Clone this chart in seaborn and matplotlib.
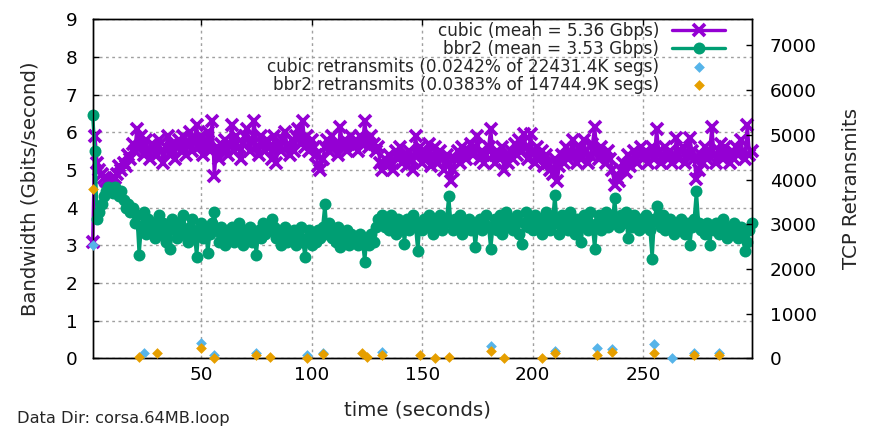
import numpy as np
import matplotlib
matplotlib.use("Agg")
import matplotlib.pyplot as plt
from matplotlib.ticker import MultipleLocator
import seaborn as sns

# ---- per-second throughput samples (Gbits/second) ----
cubic_gbps = [
    3.1, 5.9, 5.2, 5.0, 4.9, 4.8, 4.7, 4.7, 4.65, 4.7,
    4.8, 4.9, 5.1, 5.0, 5.2, 5.1, 5.4, 5.3, 5.7, 5.5,
    6.1, 5.6, 5.9, 5.4, 5.8, 5.5, 5.3, 5.7, 5.6, 5.4,
    5.8, 5.5, 5.2, 5.6, 5.9, 5.4, 5.7, 5.3, 5.6, 5.8,
    5.5, 5.9, 5.4, 5.7, 6.0, 5.5, 5.8, 6.2, 5.6, 5.9,
    5.4, 5.7, 6.0, 5.5, 6.3, 4.85, 5.6, 5.3, 5.7, 5.5,
    5.8, 5.4, 5.7, 6.2, 5.5, 5.9, 5.6, 5.3, 5.7, 5.9,
    6.1, 5.5, 5.8, 6.3, 5.6, 5.4, 5.9, 5.7, 5.5, 5.8,
    5.6, 5.3, 5.9, 5.2, 5.7, 5.5, 5.8, 6.0, 5.6, 5.4,
    5.8, 5.5, 5.9, 6.1, 5.7, 6.3, 5.6, 5.9, 5.5, 5.8,
    5.6, 5.4, 5.1, 5.0, 5.3, 5.6, 5.8, 5.5, 5.9, 5.6,
    5.7, 5.4, 6.15, 5.6, 5.8, 5.5, 5.7, 5.9, 5.6, 5.8,
    5.5, 5.9, 5.7, 6.3, 5.8, 5.6, 5.9, 5.7, 5.5, 5.6,
    5.2, 5.0, 5.3, 5.1, 5.4, 5.2, 5.0, 5.5, 5.3, 5.6,
    5.2, 5.4, 5.1, 5.5, 5.3, 5.0, 5.9, 5.4, 5.6, 5.2,
    5.5, 5.3, 5.7, 5.1, 5.4, 5.6, 5.2, 5.5, 5.3, 5.0,
    5.4, 5.2, 4.7, 5.0, 5.3, 5.5, 5.2, 5.6, 5.4, 5.3,
    5.5, 5.7, 5.4, 5.6, 5.9, 5.3, 5.5, 5.2, 5.4, 5.6,
    6.1, 5.4, 5.2, 5.5, 5.3, 5.6, 5.0, 5.4, 5.2, 5.5,
    5.3, 5.7, 5.4, 5.8, 5.5, 5.95, 5.6, 5.3, 5.95, 5.5,
    5.2, 5.6, 5.3, 5.5, 5.1, 5.4, 5.2, 5.0, 4.9, 5.3,
    4.7, 5.1, 5.4, 5.2, 5.6, 5.3, 5.5, 5.8, 5.4, 5.2,
    5.6, 5.3, 5.8, 5.5, 5.2, 5.4, 5.7, 6.15, 5.5, 5.3,
    5.6, 5.4, 5.2, 5.5, 5.3, 5.0, 4.6, 4.8, 4.7, 5.0,
    5.2, 4.95, 5.4, 5.1, 5.3, 5.5, 5.2, 5.4, 5.6, 5.3,
    5.5, 5.2, 5.4, 5.6, 5.3, 6.1, 5.5, 5.2, 5.4, 5.6,
    5.3, 5.5, 5.2, 5.4, 5.85, 5.3, 5.5, 5.6, 5.2, 5.4,
    5.85, 5.5, 5.3, 4.75, 5.0, 5.4, 5.2, 5.6, 5.3, 5.5,
    6.15, 5.4, 5.2, 5.5, 5.7, 5.3, 5.6, 5.4, 5.2, 5.5,
    5.3, 5.6, 5.4, 5.8, 5.5, 5.3, 6.2, 5.4, 5.5,
]

bbr2_gbps = [
    6.45, 5.5, 3.7, 3.9, 4.1, 4.3, 4.45, 4.55, 4.5, 4.4,
    4.55, 4.4, 4.3, 4.45, 4.2, 4.0, 4.1, 3.9, 4.0, 3.6,
    3.8, 2.75, 3.5, 3.9, 3.3, 3.7, 3.4, 3.6, 3.2, 3.5,
    3.8, 3.3, 3.6, 3.1, 3.5, 2.9, 3.7, 3.4, 3.2, 3.6,
    3.3, 3.8, 3.4, 3.1, 3.5, 3.7, 3.3, 2.7, 3.4, 3.6,
    3.2, 3.5, 2.8, 3.3, 3.6, 3.9, 3.4, 3.1, 3.5, 3.3,
    3.0, 3.4, 3.2, 3.5, 3.1, 3.3, 3.6, 3.2, 3.0, 3.4,
    3.2, 3.5, 3.1, 3.3, 2.75, 3.4, 3.2, 3.6, 3.3, 3.5,
    3.4, 3.7, 3.5, 3.2, 3.4, 3.0, 3.3, 3.5, 3.1, 3.3,
    3.2, 3.4, 3.0, 3.3, 3.5, 3.1, 2.7, 3.2, 3.4, 3.0,
    3.3, 3.1, 3.4, 3.2, 3.5, 4.1, 3.3, 3.6, 3.2, 3.4,
    3.1, 3.5, 2.95, 3.3, 3.2, 3.4, 3.0, 3.3, 3.1, 3.2,
    3.0, 3.3, 3.1, 2.57, 3.2, 3.0, 3.3, 3.1, 3.5, 3.7,
    3.6, 3.8, 3.5, 3.7, 3.4, 3.8, 3.6, 3.3, 3.7, 3.5,
    3.6, 3.05, 3.7, 3.4, 3.6, 3.8, 3.5, 2.85, 3.6, 3.4,
    3.7, 3.5, 3.8, 3.6, 3.3, 3.7, 3.5, 3.8, 3.4, 3.6,
    3.7, 4.3, 3.6, 3.4, 3.7, 3.5, 3.8, 3.3, 3.6, 3.5,
    3.7, 3.4, 3.6, 2.95, 3.5, 3.7, 3.4, 3.6, 3.8, 3.5,
    2.9, 3.5, 3.7, 3.4, 3.8, 3.3, 3.6, 3.9, 3.5, 3.7,
    3.4, 3.6, 3.8, 3.3, 3.05, 3.6, 3.9, 3.5, 3.7, 3.4,
    3.8, 3.5, 3.7, 3.3, 3.6, 3.9, 3.5, 3.4, 3.7, 4.35,
    3.6, 3.3, 3.8, 3.5, 3.7, 3.4, 3.9, 3.6, 3.3, 3.7,
    3.5, 3.1, 3.8, 3.6, 3.4, 3.9, 3.5, 2.9, 3.6, 3.8,
    3.4, 3.7, 3.9, 3.5, 3.8, 3.6, 4.25, 3.7, 3.5, 3.8,
    3.6, 3.9, 3.2, 3.7, 3.5, 3.8, 3.6, 3.4, 3.7, 3.5,
    3.8, 3.6, 3.4, 2.65, 3.7, 4.05, 3.6, 3.5, 3.8, 3.4,
    3.6, 3.7, 3.5, 3.3, 3.6, 3.4, 3.7, 3.5, 3.3, 3.6,
    3.0, 3.5, 3.7, 4.45, 3.6, 3.4, 3.5, 3.3, 3.6, 3.0,
    3.5, 3.4, 3.6, 3.3, 3.5, 3.7, 3.4, 3.2, 3.5, 3.3,
    3.6, 3.4, 3.2, 3.5, 3.3, 2.85, 3.1, 3.4, 3.6,
]

assert len(cubic_gbps) == len(bbr2_gbps)
seconds = list(range(1, len(cubic_gbps) + 1))

# ---- TCP retransmits per interval (only intervals with retransmits) ----
cubic_rt_sec = [1, 24, 50, 56, 75, 98, 105, 132, 181, 210, 229, 236, 255, 263, 273, 284]
cubic_rt = [2546, 126, 337, 74, 112, 74, 112, 150, 276, 171, 225, 209, 314, 3, 112, 126]

bbr2_rt_sec = [1, 22, 30, 50, 56, 75, 81, 98, 105, 123, 125, 132, 149, 156, 162,
               181, 187, 204, 210, 229, 236, 255, 273, 284]
bbr2_rt = [3798, 36, 112, 225, 3, 74, 36, 3, 97, 112, 36, 74, 74, 3, 36,
           164, 22, 22, 126, 74, 150, 126, 74, 74]

series_labels = [
    "cubic (mean = 5.36 Gbps)",
    "bbr2 (mean = 3.53 Gbps)",
    "cubic retransmits (0.0242% of 22431.4K segs)",
    "bbr2 retransmits (0.0383% of 14744.9K segs)",
]

PURPLE = "#9400d3"
GREEN = "#009e73"
SKY = "#56b4e9"
ORANGE = "#e69f00"

sns.set_theme(style="white")
plt.rcParams["font.family"] = ["DejaVu Sans"]
plt.rcParams["axes.edgecolor"] = "black"
plt.rcParams["axes.linewidth"] = 1.0

fig = plt.figure(figsize=(8.77, 4.28), dpi=100)
ax = fig.add_axes([0.1057, 0.1624, 0.7514, 0.7925])
ax2 = ax.twinx()

sns.lineplot(x=seconds, y=cubic_gbps, ax=ax, color=PURPLE, linewidth=2.4,
             marker="x", markersize=8.5, markeredgewidth=2.7,
             markeredgecolor=PURPLE, estimator=None, sort=False,
             legend=False, clip_on=False, zorder=3)
sns.lineplot(x=seconds, y=bbr2_gbps, ax=ax, color=GREEN, linewidth=2.4,
             marker="o", markersize=8.6, markeredgewidth=0,
             markeredgecolor=GREEN, estimator=None, sort=False,
             legend=False, clip_on=False, zorder=4)

sns.scatterplot(x=cubic_rt_sec, y=cubic_rt, ax=ax2, color=SKY, marker="D",
                s=30, linewidth=0, legend=False, clip_on=False, zorder=5)
sns.scatterplot(x=bbr2_rt_sec, y=bbr2_rt, ax=ax2, color=ORANGE, marker="D",
                s=30, linewidth=0, legend=False, clip_on=False, zorder=6)

ax.set_xlim(1, 299)
ax.set_ylim(0, 9)
ax2.set_ylim(0, 7580)

ax.xaxis.set_major_locator(MultipleLocator(50))
ax.yaxis.set_major_locator(MultipleLocator(1))
ax2.yaxis.set_major_locator(MultipleLocator(1000))

ax.grid(True, color="#a0a0a0", linestyle=(0, (2.0, 2.5)), linewidth=1.0)
ax.set_axisbelow(True)

tick_fs = 13.3
ax.tick_params(axis="x", direction="in", length=4, width=1, top=True,
               labeltop=False, pad=5.5, labelsize=tick_fs, colors="black")
ax.tick_params(axis="y", direction="in", length=4, width=1, right=False,
               pad=11, labelsize=tick_fs, colors="black")
ax2.tick_params(axis="y", direction="in", length=4, width=1, pad=13,
                labelsize=tick_fs, colors="black")

for a in (ax, ax2):
    for sp in a.spines.values():
        sp.set_color("black")
        sp.set_linewidth(1.0)

label_fs = 14.2
ax.set_xlabel("time (seconds)", fontsize=label_fs, va="center")
ax.xaxis.set_label_coords(0.4936, -0.152)
ax.set_ylabel("Bandwidth (Gbits/second)", fontsize=label_fs, va="center")
ax.yaxis.set_label_coords(-0.095, 0.5)
ax2.set_ylabel("TCP Retransmits", fontsize=label_fs, va="center", rotation=90)
ax2.yaxis.set_label_coords(1.152, 0.5)

handles = [ax.lines[0], ax.lines[1], ax2.collections[0], ax2.collections[1]]
leg = ax2.legend(handles, series_labels, loc="upper right",
                 bbox_to_anchor=(0.9595, 0.993), frameon=False,
                 markerfirst=False, handlelength=3.1, handletextpad=0.8,
                 labelspacing=0.0, borderpad=0, borderaxespad=0,
                 fontsize=12.2, scatterpoints=1, numpoints=1)
for column in leg._legend_handle_box.get_children():
    column.align = "right"

fig.text(17 / 877, 1 - 418 / 428, "Data Dir: corsa.64MB.loop",
         fontsize=11.7, ha="left", va="center")

fig.savefig("out.png", dpi=100)
